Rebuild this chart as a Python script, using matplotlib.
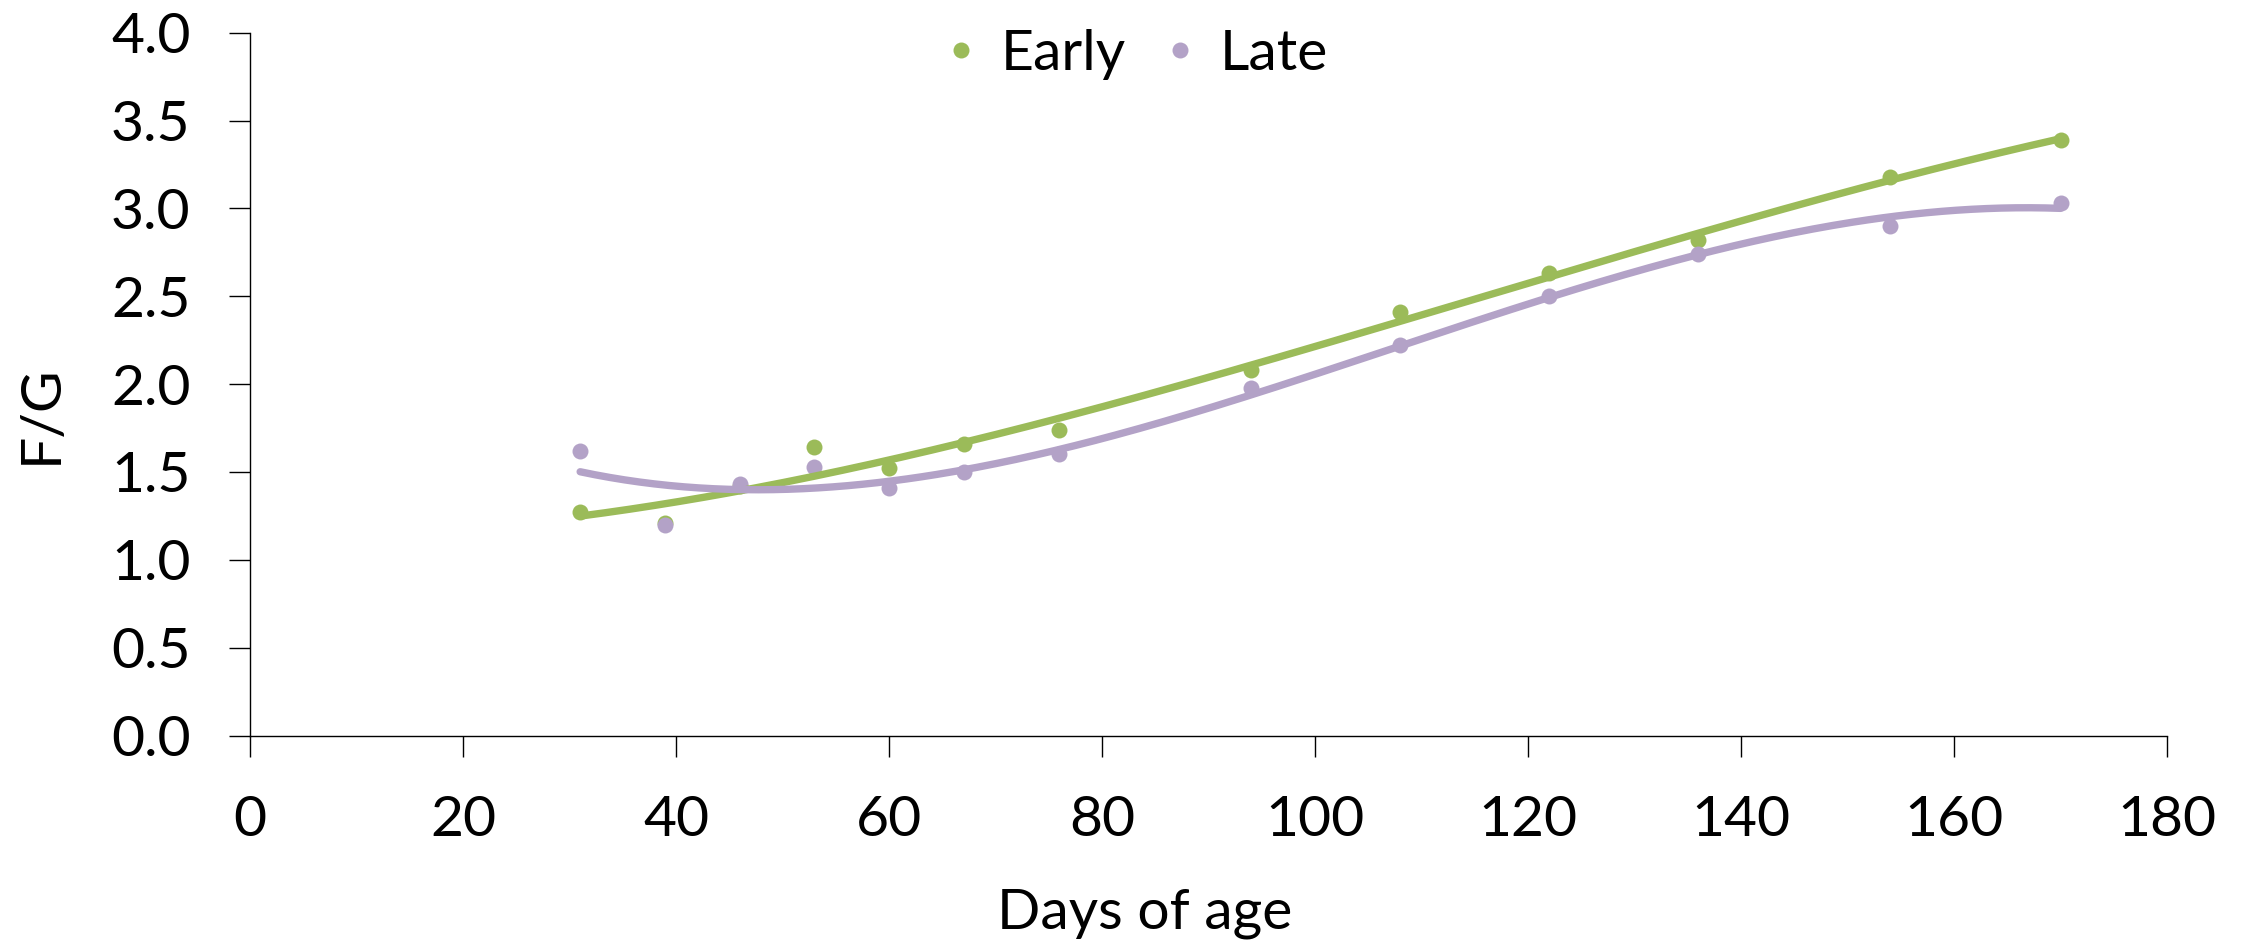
import numpy as np
import matplotlib
matplotlib.use("Agg")
import matplotlib.pyplot as plt
from matplotlib.lines import Line2D

# ---- data ----
days = [31, 39, 46, 53, 60, 67, 76, 94, 108, 122, 136, 154, 170]
early = [1.27, 1.21, 1.42, 1.64, 1.52, 1.66, 1.74, 2.08, 2.41, 2.63, 2.82, 3.18, 3.39]
late = [1.62, 1.20, 1.43, 1.53, 1.41, 1.50, 1.60, 1.98, 2.22, 2.50, 2.74, 2.90, 3.03]
series_names = ["Early", "Late"]
x_ticks = [0, 20, 40, 60, 80, 100, 120, 140, 160, 180]
y_ticks = [0.0, 0.5, 1.0, 1.5, 2.0, 2.5, 3.0, 3.5, 4.0]
x_label = "Days of age"
y_label = "F/G"

GREEN = "#9BBB59"
PURPLE = "#B3A2C7"
FONT = ["Lato", "DejaVu Sans"]
FS = 41
MS = 11.5

plt.rcParams["font.family"] = FONT

fig = plt.figure(figsize=(22.41, 9.42), dpi=100)
ax = fig.add_axes([250 / 2241, 1 - 735.5 / 942, (2167 - 250) / 2241, (735.5 - 32.7) / 942])

x = np.array(days, dtype=float)
xs = np.linspace(x.min(), x.max(), 300)

ax.plot(x, early, "o", color=GREEN, ms=MS, mew=0, zorder=3)
ax.plot(x, late, "o", color=PURPLE, ms=MS, mew=0, zorder=4)

# polynomial (order 3) trendlines fitted to the series, as in the source chart
for vals, col, z in [(early, GREEN, 5), (late, PURPLE, 6)]:
    coef = np.polyfit(x, np.array(vals), 3)
    ax.plot(xs, np.polyval(coef, xs), color=col, lw=5.3, solid_capstyle="round", zorder=z)

ax.set_xlim(0, 180)
ax.set_ylim(0, 4.0)
ax.set_xticks(x_ticks)
ax.set_yticks(y_ticks)
ax.set_xticklabels([str(t) for t in x_ticks])
ax.set_yticklabels([f"{t:.1f}" for t in y_ticks])

for s in ["top", "right"]:
    ax.spines[s].set_visible(False)
for s in ["left", "bottom"]:
    ax.spines[s].set_linewidth(1.0)
    ax.spines[s].set_color("black")

ax.tick_params(axis="both", direction="out", length=14.9, width=1.0, color="black",
               labelsize=FS, pad=28)

ax.set_xlabel(x_label, fontsize=FS, va="baseline", ha="center")
ax.xaxis.set_label_coords(0.4669, -0.274)
ax.set_ylabel(y_label, fontsize=FS, va="center", ha="center")
ax.yaxis.set_label_coords(-0.109, 0.4575)

handles = [Line2D([], [], ls="none", marker="o", color=GREEN, ms=MS, mew=0),
           Line2D([], [], ls="none", marker="o", color=PURPLE, ms=MS, mew=0)]
fig.legend(handles, series_names, loc="center", bbox_to_anchor=(1130 / 2241, 1 - 54 / 942),
           ncol=2, frameon=False, fontsize=FS, handlelength=1.0, handletextpad=0.2,
           columnspacing=0.45, borderpad=0, numpoints=1)

fig.savefig("out.png", dpi=100, facecolor="white")
